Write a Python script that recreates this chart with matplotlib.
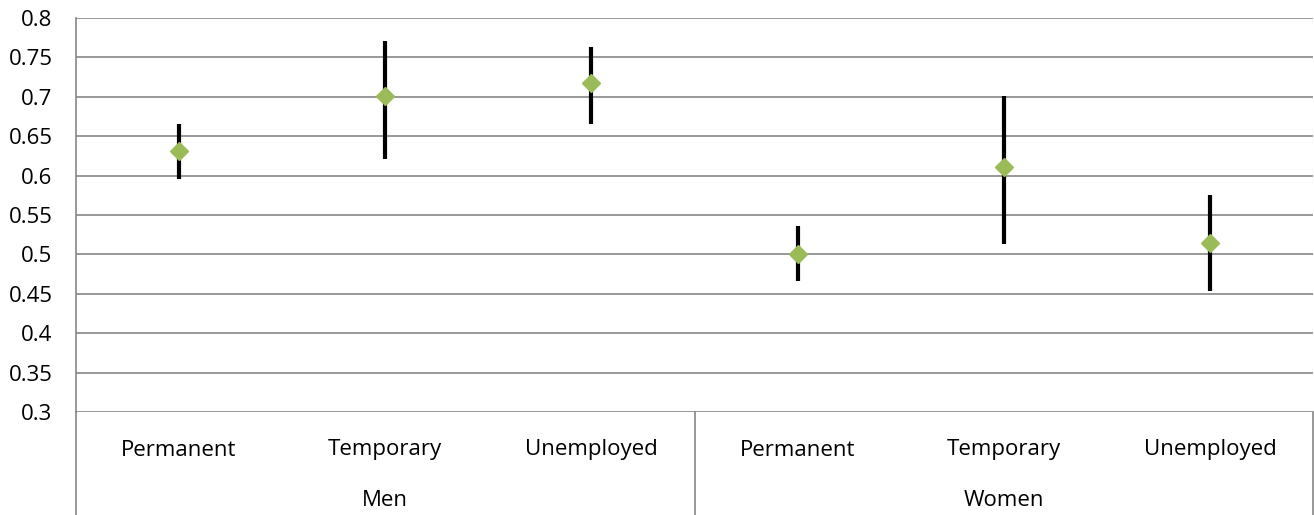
import matplotlib
matplotlib.use("Agg")
import matplotlib.pyplot as plt
import numpy as np

groups = ["Men", "Women"]
categories = ["Permanent", "Temporary", "Unemployed"]
values = [0.631, 0.701, 0.717, 0.501, 0.611, 0.514]
upper = [0.665, 0.771, 0.763, 0.536, 0.701, 0.575]
lower = [0.596, 0.621, 0.666, 0.466, 0.513, 0.453]
yticks = [0.3, 0.35, 0.4, 0.45, 0.5, 0.55, 0.6, 0.65, 0.7, 0.75, 0.8]
ytick_labels = ["0.3", "0.35", "0.4", "0.45", "0.5", "0.55", "0.6", "0.65", "0.7", "0.75", "0.8"]

plt.rcParams['font.family'] = ['Open Sans', 'DejaVu Sans']
FS = 16
W, H = 1314, 515
fig = plt.figure(figsize=(W/100, H/100), dpi=100)
ax = fig.add_axes([76/W, 1-412/H, (1313-76)/W, (412-18)/H])

n = len(values)
x = np.arange(n)
vals = np.array(values)
yerr = np.array([vals - np.array(lower), np.array(upper) - vals])
ax.errorbar(x, vals, yerr=yerr, fmt='none', ecolor='black', elinewidth=3, capsize=0, zorder=3)
ax.plot(x, vals, linestyle='none', marker='D', markersize=9, color='#9BBB59', zorder=4)

ax.set_xlim(-0.5, n-0.5)
ax.set_ylim(0.3, 0.8)
ax.set_yticks(yticks)
ax.set_yticklabels(ytick_labels, fontsize=FS)
ax.yaxis.grid(True, color='#868686', linewidth=1.2)
ax.set_axisbelow(True)
ax.tick_params(axis='y', length=0, pad=17)
ax.tick_params(axis='x', length=0)
ax.set_xticks([])
for s in ['top', 'right', 'bottom']:
    ax.spines[s].set_visible(False)
ax.spines['left'].set_color('#868686')
ax.spines['left'].set_linewidth(1.2)

# category labels
trans = ax.get_xaxis_transform()
ybot = -(515-412)/(412-18)
for i in range(n):
    ax.text(x[i], -38/(412-18), categories[i % 3], transform=trans, ha='center', va='center', fontsize=FS)
for g, name in enumerate(groups):
    ax.text(g*3 + 1, -89/(412-18), name, transform=trans, ha='center', va='center', fontsize=FS)
# separators
for xs in [-0.5, 2.5, n-0.5]:
    ax.plot([xs, xs], [0, ybot], transform=trans, color='#868686', lw=1.2, clip_on=False)

fig.savefig("out.png", dpi=100)
